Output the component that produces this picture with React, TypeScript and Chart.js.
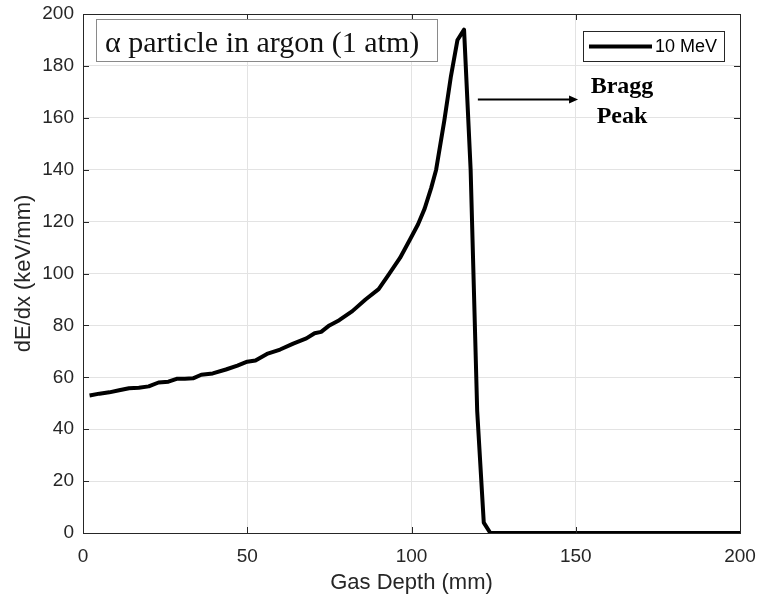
import React, { useEffect, useRef } from "react";
import { Chart, registerables } from "chart.js";

Chart.register(...registerables);

// Gas depth (mm)
const depth = [
  2, 5, 8, 11, 14, 17, 20, 23, 26, 28.5, 31, 33.5, 36, 39.5, 43.5, 47, 50, 52.5, 56, 60,
  64, 68, 70.5, 72.5, 75, 78, 82, 86, 90, 93, 96.5, 99.5, 102, 104, 106, 107.5, 110, 112,
  114, 116, 118, 120, 122, 124, 200,
];
// dE/dx (keV/mm)
const dEdx = [
  53, 53.7, 54.2, 55, 55.8, 56, 56.5, 58, 58.3, 59.4, 59.4, 59.6, 61, 61.5, 63, 64.5, 66, 66.5, 69, 70.7,
  73, 75, 77, 77.5, 80, 82, 85.5, 90, 94, 99.5, 106, 113, 119, 125, 133, 140, 159, 176,
  190, 194, 140, 47, 4, 0, 0,
];
const seriesLabel = "10 MeV";
const xTicks = [0, 50, 100, 150, 200];
const yTicks = [0, 20, 40, 60, 80, 100, 120, 140, 160, 180, 200];
const titleText = "\u03b1 particle in argon (1 atm)";
const noteLines = ["Bragg", "Peak"];

const AXIS = "#262626";
const GRID = "#e3e3e3";
const SANS = "'Liberation Sans', Arial, sans-serif";
const SERIF = "'Liberation Serif', 'Times New Roman', serif";

const decorPlugin = {
  id: "decor",
  afterDatasetsDraw(chart: any) {
    const { ctx, chartArea: a, scales } = chart;
    const xs = scales.x;
    const ys = scales.y;
    ctx.save();
    // box
    ctx.strokeStyle = AXIS;
    ctx.lineWidth = 1;
    ctx.strokeRect(Math.round(a.left) + 0.5, Math.round(a.top) + 0.5, Math.round(a.right - a.left), Math.round(a.bottom - a.top));
    // inward ticks
    const tl = 6;
    ctx.beginPath();
    xTicks.forEach((v) => {
      const px = Math.round(xs.getPixelForValue(v)) + 0.5;
      ctx.moveTo(px, a.bottom);
      ctx.lineTo(px, a.bottom - tl);
      ctx.moveTo(px, a.top);
      ctx.lineTo(px, a.top + tl);
    });
    yTicks.forEach((v) => {
      const py = Math.round(ys.getPixelForValue(v)) + 0.5;
      ctx.moveTo(a.left, py);
      ctx.lineTo(a.left + tl, py);
      ctx.moveTo(a.right, py);
      ctx.lineTo(a.right - tl, py);
    });
    ctx.stroke();

    // title box
    const tb = { x: 96, y: 19, w: 341, h: 42 };
    ctx.fillStyle = "#ffffff";
    ctx.fillRect(tb.x, tb.y, tb.w, tb.h);
    ctx.strokeStyle = "#8a8a8a";
    ctx.strokeRect(tb.x + 0.5, tb.y + 0.5, tb.w, tb.h);
    ctx.fillStyle = "#111111";
    ctx.font = `30px ${SERIF}`;
    ctx.textBaseline = "alphabetic";
    ctx.textAlign = "left";
    ctx.fillText(titleText, tb.x + 9, 52);

    // legend box
    const lb = { x: 583, y: 31, w: 141, h: 30 };
    ctx.fillStyle = "#ffffff";
    ctx.fillRect(lb.x, lb.y, lb.w, lb.h);
    ctx.strokeStyle = AXIS;
    ctx.lineWidth = 1;
    ctx.strokeRect(lb.x + 0.5, lb.y + 0.5, lb.w, lb.h);
    ctx.strokeStyle = "#000000";
    ctx.lineWidth = 4;
    ctx.beginPath();
    ctx.moveTo(lb.x + 6, lb.y + 15.5);
    ctx.lineTo(lb.x + 69, lb.y + 15.5);
    ctx.stroke();
    ctx.fillStyle = "#000000";
    ctx.font = `18px ${SANS}`;
    ctx.textBaseline = "middle";
    ctx.fillText(seriesLabel, lb.x + 72, lb.y + 16);

    // arrow
    const ax0 = xs.getPixelForValue(120.2);
    const ax1 = xs.getPixelForValue(150.7);
    const ay = Math.round(ys.getPixelForValue(167.2)) + 0.5;
    ctx.strokeStyle = "#000000";
    ctx.lineWidth = 2;
    ctx.beginPath();
    ctx.moveTo(ax0, ay);
    ctx.lineTo(ax1 - 6, ay);
    ctx.stroke();
    ctx.fillStyle = "#000000";
    ctx.beginPath();
    ctx.moveTo(ax1, ay);
    ctx.lineTo(ax1 - 9, ay - 4);
    ctx.lineTo(ax1 - 9, ay + 4);
    ctx.closePath();
    ctx.fill();

    // Bragg Peak note
    ctx.font = `bold 24px ${SERIF}`;
    ctx.textAlign = "center";
    ctx.textBaseline = "middle";
    const nx = 622;
    ctx.fillText(noteLines[0], nx, 87);
    ctx.fillText(noteLines[1], nx, 117);
    ctx.restore();
  },
};

export default function App() {
  const ref = useRef<HTMLCanvasElement | null>(null);
  useEffect(() => {
    if (!ref.current) return;
    const tickFont = { family: SANS, size: 19 };
    const chart = new Chart(ref.current, {
      type: "line",
      data: {
        datasets: [
          {
            label: seriesLabel,
            data: depth.map((x, i) => ({ x, y: dEdx[i] })),
            borderColor: "#000000",
            backgroundColor: "#000000",
            borderWidth: 4,
            pointRadius: 0,
            tension: 0,
            fill: false,
            borderJoinStyle: "round",
          },
        ],
      },
      options: {
        animation: false,
        responsive: false,
        maintainAspectRatio: false,
        layout: { padding: { top: 14, right: 17, left: 0, bottom: 0 } },
        plugins: { legend: { display: false }, tooltip: { enabled: false } },
        scales: {
          x: {
            type: "linear",
            min: 0,
            max: 200,
            afterBuildTicks: (s: any) => {
              s.ticks = xTicks.map((v) => ({ value: v }));
            },
            afterFit: (s: any) => {
              s.height = 64;
              s.paddingLeft = 0;
              s.paddingRight = 0;
            },
            ticks: { color: AXIS, font: tickFont, padding: 12, maxRotation: 0 },
            grid: { color: GRID, drawTicks: false, lineWidth: 1 },
            border: { display: true, color: AXIS, width: 1 },
            title: {
              display: true,
              text: "Gas Depth (mm)",
              color: AXIS,
              font: { family: SANS, size: 22 },
              padding: { top: 0, bottom: 1 },
            },
          },
          y: {
            type: "linear",
            min: 0,
            max: 200,
            afterBuildTicks: (s: any) => {
              s.ticks = yTicks.map((v) => ({ value: v }));
            },
            afterFit: (s: any) => {
              s.width = 83;
              s.paddingTop = 0;
              s.paddingBottom = 0;
            },
            ticks: { color: AXIS, font: tickFont, padding: 9 },
            grid: { color: GRID, drawTicks: false, lineWidth: 1 },
            border: { display: true, color: AXIS, width: 1 },
            title: {
              display: true,
              text: "dE/dx (keV/mm)",
              color: AXIS,
              font: { family: SANS, size: 22 },
              padding: { top: 11, bottom: 0 },
            },
          },
        },
      },
      plugins: [decorPlugin],
    });
    return () => chart.destroy();
  }, []);
  return (
    <div style={{ position: "absolute", left: 0, top: 0, width: 757, height: 597, background: "#fff" }}>
      <canvas ref={ref} width={757} height={597} style={{ display: "block" }} />
    </div>
  );
}
